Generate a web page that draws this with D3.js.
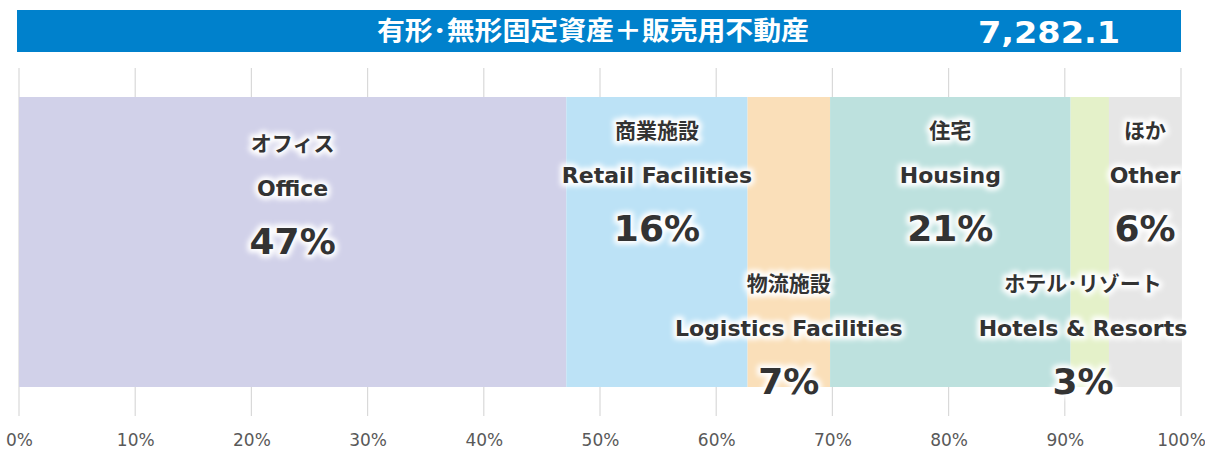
<!DOCTYPE html>
<html><head><meta charset="utf-8">
<script src="https://cdn.jsdelivr.net/npm/d3@7"></script>
<style>body{margin:0;background:#fff;}svg{display:block;}</style>
</head><body>
<svg id="c" width="1205" height="451"></svg>
<script>
const categoriesJP = ["オフィス","商業施設","物流施設","住宅","ホテル･リゾート","ほか"];
const categoriesEN = ["Office","Retail Facilities","Logistics Facilities","Housing","Hotels & Resorts","Other"];
const values = [47.1, 15.6, 7.1, 20.7, 3.3, 6.2];
const pctLabels = ["47%","16%","7%","21%","3%","6%"];
const colors = ["#D1D1E9","#BCE2F6","#FADFB9","#BDE1DE","#E4F1C9","#E6E6E6"];
const tickValues = [0,10,20,30,40,50,60,70,80,90,100];
const headerTitle = "有形･無形固定資産＋販売用不動産";
const headerValue = "7,282.1";
const labelRow = [0, 0, 1, 0, 1, 0];

const svg = d3.select("#c");
const x = d3.scaleLinear().domain([0,100]).range([19,1181]);
const barTop = 97, barBot = 387;

const defs = svg.append("defs");
const f = defs.append("filter").attr("id","glow").attr("x","-20%").attr("y","-40%").attr("width","140%").attr("height","180%");
f.append("feGaussianBlur").attr("stdDeviation",2.5);

// header
svg.append("rect").attr("x",17).attr("y",10).attr("width",1164).attr("height",42).attr("fill","#0081CC");
svg.append("text").attr("x",593).attr("y",40).attr("text-anchor","middle").attr("fill","#fff")
  .attr("font-family","'Noto Sans CJK JP'").attr("font-weight","bold").attr("font-size",26)
  .attr("textLength",432).attr("lengthAdjust","spacingAndGlyphs").text(headerTitle);
svg.append("text").attr("x",1049).attr("y",43).attr("text-anchor","middle").attr("fill","#fff")
  .attr("font-family","'DejaVu Sans'").attr("font-weight","bold").attr("font-size",31)
  .attr("textLength",142).attr("lengthAdjust","spacingAndGlyphs").text(headerValue);

// gridlines
svg.append("g").selectAll("line").data(tickValues).join("line")
  .attr("x1",d=>x(d)).attr("x2",d=>x(d)).attr("y1",68).attr("y2",416)
  .attr("stroke","#D9D9D9").attr("stroke-width",1.2);

// axis labels
const axis = d3.axisBottom(x).tickValues(tickValues).tickFormat(d=>d+"%").tickSize(0);
const ag = svg.append("g").attr("transform","translate(0,431)").call(axis);
ag.select(".domain").remove();
ag.selectAll("text").attr("font-family","'DejaVu Sans'").attr("font-size",17).attr("fill","#595959");

// segments
let cum = 0;
const segs = values.map((v,i)=>{const s={i,start:cum,end:cum+v}; cum+=v; return s;});
svg.append("g").selectAll("rect").data(segs).join("rect")
  .attr("x",d=>x(d.start)).attr("width",d=>x(d.end)-x(d.start))
  .attr("y",barTop).attr("height",barBot-barTop).attr("fill",d=>colors[d.i]);

// labels
const centers = segs.map(d=>(x(d.start)+x(d.end))/2);
centers[4] = 1083;
function lbl(xp, y, txt, size, family){
  const g = svg.append("g");
  g.append("text").attr("x",xp).attr("y",y).attr("text-anchor","middle")
    .attr("font-family",family).attr("font-weight","bold").attr("font-size",size)
    .attr("fill","#fff").attr("stroke","#fff").attr("stroke-width",7).attr("stroke-linejoin","round")
    .attr("filter","url(#glow)").text(txt);
  g.append("text").attr("x",xp).attr("y",y).attr("text-anchor","middle")
    .attr("font-family",family).attr("font-weight","bold").attr("font-size",size)
    .attr("fill","#333").text(txt);
}
segs.forEach(d=>{
  const i=d.i, cx=centers[i];
  const b = i===0 ? 143 : 130 + labelRow[i]*153;
  lbl(cx, b+8, categoriesJP[i], 21, "'Noto Sans CJK JP'");
  lbl(cx, b+53, categoriesEN[i], 22, "'DejaVu Sans'");
  lbl(cx, b+111, pctLabels[i], 36, "'DejaVu Sans'");
});
</script>
</body></html>
